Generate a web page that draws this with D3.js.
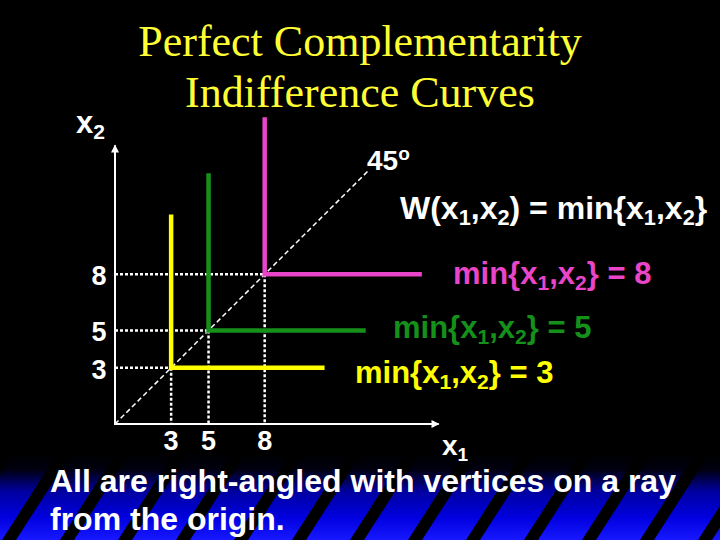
<!DOCTYPE html>
<html>
<head>
<meta charset="utf-8">
<script src="https://cdn.jsdelivr.net/npm/d3@7"></script>
<style>
  html, body { margin: 0; padding: 0; background: #000; }
  svg { display: block; }
</style>
</head>
<body>
<svg id="chart"></svg>
<script>
// Chart values
const levels = [3, 5, 8];              // vertex of each curve (x1 = x2 = level)
const curveEnds = [11.2, 13.4, 16.4];  // how far each arm runs
const xTicks = [3, 5, 8];
const yTicks = [8, 5, 3];
const axisMax = { x: 17.3, y: 14.9 };
const rayEnd = 13.5;

// Styles
const curveColors = ["#ffff00", "#15901a", "#e845c8"];
const labelColors = ["#ffff00", "#15901a", "#e845c8"];

const width = 720, height = 540;
const svg = d3.select("#chart").attr("width", width).attr("height", height);
const sans = "'Liberation Sans', Arial, sans-serif";

// background + striped blue footer
const defs = svg.append("defs");
const grad = defs.append("linearGradient").attr("id", "foot")
    .attr("x1", 0).attr("y1", 0).attr("x2", 0).attr("y2", 1);
[[0, "#000000"], [0.2, "#000010"], [0.45, "#0000a0"], [0.75, "#0000e0"], [1, "#1818ff"]]
  .forEach(([o, c]) => grad.append("stop").attr("offset", o).attr("stop-color", c));

svg.append("rect").attr("width", width).attr("height", height).attr("fill", "#000");
svg.append("rect").attr("y", 452).attr("width", width).attr("height", 88).attr("fill", "url(#foot)");
const stripes = svg.append("g").attr("fill", "#000");
for (let bx = 2 - 58 * 2; bx < width + 60; bx += 58) {
  // parallelogram leaning right: bottom at bx, top shifted by 0.64*height
  const top = 452, bot = 540, lean = 0.64 * (bot - top);
  stripes.append("path")
    .attr("d", `M${bx},${bot} L${bx + 14},${bot} L${bx + 14 + lean},${top} L${bx + lean},${top} Z`);
}

// scales
const x = d3.scaleLinear().domain([0, 8]).range([115, 115 + 8 * 18.71]);
const y = d3.scaleLinear().domain([0, 8]).range([424, 424 - 8 * 18.71]);

// title
const title = svg.append("text")
    .attr("text-anchor", "middle")
    .attr("font-family", "'Liberation Serif', 'Times New Roman', serif")
    .attr("font-size", 44)
    .attr("fill", "#ffff33");
title.append("tspan").attr("x", 360).attr("y", 56).text("Perfect Complementarity");
title.append("tspan").attr("x", 360).attr("y", 107).text("Indifference Curves");

// dotted guides to the axes
const guides = svg.append("g")
    .attr("stroke", "#fff").attr("stroke-width", 2.5)
    .attr("stroke-dasharray", "3,2").attr("fill", "none");
levels.forEach(v => {
  guides.append("line").attr("x1", x(0)).attr("x2", x(v)).attr("y1", y(v)).attr("y2", y(v));
  guides.append("line").attr("x1", x(v)).attr("x2", x(v)).attr("y1", y(v)).attr("y2", y(0));
});

// 45 degree ray
svg.append("line")
    .attr("x1", x(0)).attr("y1", y(0)).attr("x2", x(rayEnd)).attr("y2", y(rayEnd))
    .attr("stroke", "#fff").attr("stroke-width", 1.5).attr("stroke-dasharray", "5,3");

// axes with arrowheads
defs.append("marker").attr("id", "arrow")
    .attr("viewBox", "0 0 10 10").attr("refX", 9).attr("refY", 5)
    .attr("markerWidth", 5).attr("markerHeight", 4).attr("orient", "auto-start-reverse")
    .append("path").attr("d", "M0,0 L10,5 L0,10 Z").attr("fill", "#fff");
svg.append("path")
    .attr("d", d3.line()([[x(0), y(axisMax.y)], [x(0), y(0)], [x(axisMax.x), y(0)]]))
    .attr("fill", "none").attr("stroke", "#fff").attr("stroke-width", 2)
    .attr("marker-start", "url(#arrow)").attr("marker-end", "url(#arrow)");

// indifference curves
const line = d3.line().x(d => x(d[0])).y(d => y(d[1]));
svg.append("g").selectAll("path")
  .data(levels)
  .join("path")
    .attr("d", (v, i) => line([[v, curveEnds[i]], [v, v], [curveEnds[i], v]]))
    .attr("fill", "none")
    .attr("stroke", (v, i) => curveColors[i])
    .attr("stroke-width", 4.5)
    .attr("stroke-linejoin", "miter");

// tick labels
svg.append("g").selectAll("text")
  .data(yTicks)
  .join("text")
    .attr("x", 99).attr("y", d => y(d) + 11)
    .attr("text-anchor", "middle")
    .attr("font-family", sans).attr("font-weight", "bold").attr("font-size", 27)
    .attr("fill", "#fff").text(d => d);
svg.append("g").selectAll("text")
  .data(xTicks)
  .join("text")
    .attr("x", d => x(d)).attr("y", 450)
    .attr("text-anchor", "middle")
    .attr("font-family", sans).attr("font-weight", "bold").attr("font-size", 27)
    .attr("fill", "#fff").text(d => d);

// text with sub/superscripts: pieces are [text, kind] (0 normal, 1 sub, 2 sup)
function rich(px, py, size, color, pieces) {
  const t = svg.append("text").attr("x", px).attr("y", py)
      .attr("font-family", sans).attr("font-weight", "bold")
      .attr("font-size", size).attr("fill", color);
  let shift = 0;
  pieces.forEach(([s, kind]) => {
    const want = kind === 1 ? size * 0.2 : kind === 2 ? -size * 0.35 : 0;
    t.append("tspan")
      .attr("dy", want - shift)
      .attr("font-size", kind ? size * 0.68 : size)
      .text(s);
    shift = want;
  });
  return t;
}

const minPieces = v => [["min{x", 0], ["1", 1], [",x", 0], ["2", 1], ["} = " + v, 0]];

rich(76, 133, 31, "#fff", [["x", 0], ["2", 1]]);
rich(442, 455, 28, "#fff", [["x", 0], ["1", 1]]);
rich(367, 170, 28, "#fff", [["45", 0], ["o", 2]]);
rich(400, 219, 32, "#fff",
  [["W(x", 0], ["1", 1], [",x", 0], ["2", 1], [") = min{x", 0], ["1", 1], [",x", 0], ["2", 1], ["}", 0]]);

const labelPos = [[355, 383], [393, 338], [453, 284]];
levels.forEach((v, i) => rich(labelPos[i][0], labelPos[i][1], 31, labelColors[i], minPieces(v)));

// footnote
const foot = svg.append("text")
    .attr("font-family", sans).attr("font-weight", "bold").attr("font-size", 32)
    .attr("fill", "#fff");
foot.append("tspan").attr("x", 50).attr("y", 492).text("All are right-angled with vertices on a ray");
foot.append("tspan").attr("x", 50).attr("y", 530).text("from the origin.");
</script>
</body>
</html>
